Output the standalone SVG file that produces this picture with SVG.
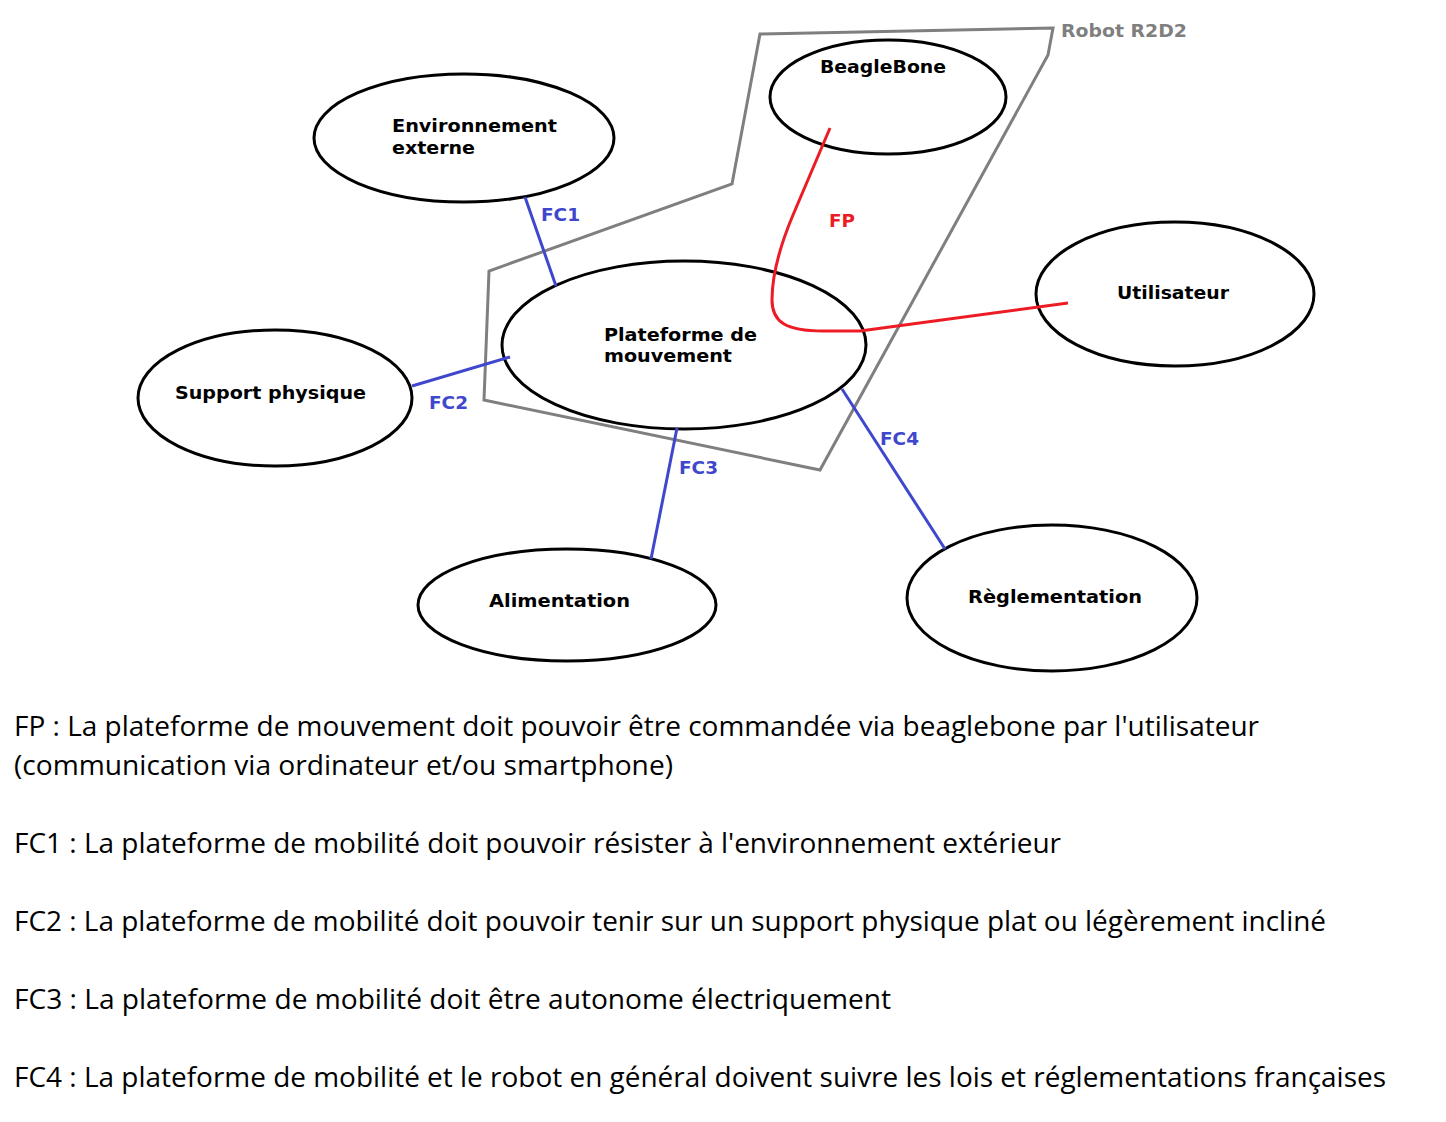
<svg xmlns="http://www.w3.org/2000/svg" width="1446" height="1122" viewBox="0 0 1446 1122">
<style>
.node{fill:none;stroke:#000;stroke-width:3}
.lbl{font-family:"DejaVu Sans",sans-serif;font-weight:bold;font-size:18px;fill:#000}
.fc{font-family:"DejaVu Sans",sans-serif;font-weight:bold;font-size:18px;fill:#3f48cc}
.fcl{stroke:#3f48cc;stroke-width:3;fill:none}
.body{font-family:"Open Sans","Noto Sans",sans-serif;font-size:28px;fill:#000}
</style>
<rect width="1446" height="1122" fill="#fff"/>
<g id="robot">
<polygon points="760,34 1053,28 1048,55 820,470 484,400 489,271 732,184" fill="none" stroke="#7f7f7f" stroke-width="3"/>
<text x="1061" y="37" class="lbl" fill="#7f7f7f" style="fill:#7f7f7f" textLength="126" lengthAdjust="spacingAndGlyphs">Robot R2D2</text>
</g>
<g id="environnement">
<ellipse cx="464" cy="138" rx="150" ry="64" class="node"/>
<text x="392" y="132" class="lbl" textLength="165" lengthAdjust="spacingAndGlyphs">Environnement</text>
<text x="392" y="154" class="lbl" textLength="83" lengthAdjust="spacingAndGlyphs">externe</text>
</g>
<g id="beaglebone">
<ellipse cx="888" cy="97" rx="118" ry="57" class="node"/>
<text x="820" y="73" class="lbl" textLength="126" lengthAdjust="spacingAndGlyphs">BeagleBone</text>
</g>
<g id="utilisateur">
<ellipse cx="1175" cy="294" rx="139" ry="72" class="node"/>
<text x="1117" y="299" class="lbl" textLength="112" lengthAdjust="spacingAndGlyphs">Utilisateur</text>
</g>
<g id="plateforme">
<ellipse cx="684" cy="345" rx="182" ry="84" class="node"/>
<text x="604" y="341" class="lbl" textLength="153" lengthAdjust="spacingAndGlyphs">Plateforme de</text>
<text x="604" y="362" class="lbl" textLength="128" lengthAdjust="spacingAndGlyphs">mouvement</text>
</g>
<g id="support">
<ellipse cx="275" cy="398" rx="137" ry="68" class="node"/>
<text x="175" y="399" class="lbl" textLength="191" lengthAdjust="spacingAndGlyphs">Support physique</text>
</g>
<g id="alimentation">
<ellipse cx="567" cy="605" rx="149" ry="56" class="node"/>
<text x="489" y="607" class="lbl" textLength="141" lengthAdjust="spacingAndGlyphs">Alimentation</text>
</g>
<g id="reglementation">
<ellipse cx="1052" cy="598" rx="145" ry="73" class="node"/>
<text x="968" y="603" class="lbl" textLength="174" lengthAdjust="spacingAndGlyphs">Règlementation</text>
</g>
<g id="connectors">
<path d="M830,128 L793,215 C777,253 772,280 772,300 C772,322 786,331 823,331 L860,331 L1068,303" fill="none" stroke="#ed1c24" stroke-width="3"/>
<text x="829" y="227" class="fc" style="fill:#ed1c24" textLength="26" lengthAdjust="spacingAndGlyphs">FP</text>
<line x1="525" y1="197" x2="556" y2="286" class="fcl"/>
<text x="541" y="221" class="fc" textLength="39" lengthAdjust="spacingAndGlyphs">FC1</text>
<line x1="412" y1="386" x2="510" y2="357" class="fcl"/>
<text x="429" y="409" class="fc" textLength="39" lengthAdjust="spacingAndGlyphs">FC2</text>
<line x1="677" y1="428" x2="651" y2="559" class="fcl"/>
<text x="679" y="474" class="fc" textLength="39" lengthAdjust="spacingAndGlyphs">FC3</text>
<line x1="842" y1="389" x2="945" y2="549" class="fcl"/>
<text x="880" y="445" class="fc" textLength="39" lengthAdjust="spacingAndGlyphs">FC4</text>
</g>
<g id="legend">
<text x="14" y="736" class="body" textLength="1245" lengthAdjust="spacingAndGlyphs">FP : La plateforme de mouvement doit pouvoir être commandée via beaglebone par l'utilisateur</text>
<text x="14" y="775" class="body" textLength="659" lengthAdjust="spacingAndGlyphs">(communication via ordinateur et/ou smartphone)</text>
<text x="14" y="853" class="body" textLength="1047" lengthAdjust="spacingAndGlyphs">FC1 : La plateforme de mobilité doit pouvoir résister à l'environnement extérieur</text>
<text x="14" y="931" class="body" textLength="1312" lengthAdjust="spacingAndGlyphs">FC2 : La plateforme de mobilité doit pouvoir tenir sur un support physique plat ou légèrement incliné</text>
<text x="14" y="1009" class="body" textLength="877" lengthAdjust="spacingAndGlyphs">FC3 : La plateforme de mobilité doit être autonome électriquement</text>
<text x="14" y="1087" class="body" textLength="1372" lengthAdjust="spacingAndGlyphs">FC4 : La plateforme de mobilité et le robot en général doivent suivre les lois et réglementations françaises</text>
</g>
</svg>
